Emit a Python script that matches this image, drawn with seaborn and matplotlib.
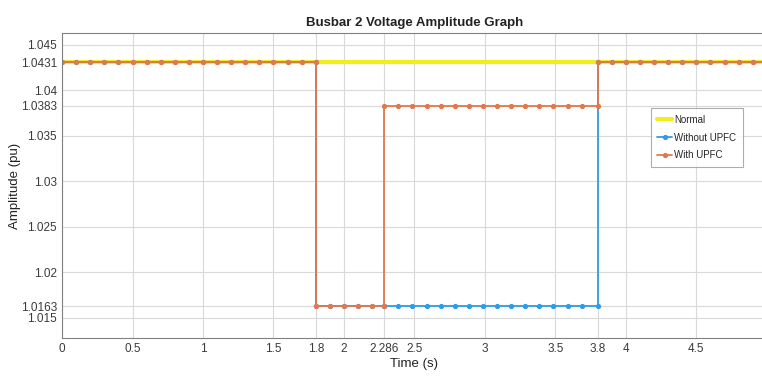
import numpy as np
import pandas as pd
import matplotlib
matplotlib.use("Agg")
import matplotlib.pyplot as plt
import seaborn as sns

# time stamps of the simulation samples (s)
t_pre = [0.0, 0.1, 0.2, 0.3, 0.4, 0.5, 0.6, 0.7, 0.8, 0.9, 1.0,
         1.1, 1.2, 1.3, 1.4, 1.5, 1.6, 1.7, 1.8]
t_fault = [1.8, 1.9, 2.0, 2.1, 2.2, 2.286]
t_mid = [2.286, 2.386, 2.486, 2.586, 2.686, 2.786, 2.886, 2.986,
         3.086, 3.186, 3.286, 3.386, 3.486, 3.586, 3.686, 3.8]
t_post = [3.8, 3.9, 4.0, 4.1, 4.2, 4.3, 4.4, 4.5, 4.6, 4.7, 4.8, 4.9, 5.0]

# voltage levels (pu)
v_normal = 1.0431
v_fault = 1.0163
v_upfc = 1.0383

normal_t = [0.0, 5.0]
normal_v = [v_normal, v_normal]

without_t = t_pre + t_fault + t_mid + t_post
without_v = ([v_normal] * len(t_pre) + [v_fault] * len(t_fault)
             + [v_fault] * len(t_mid) + [v_normal] * len(t_post))

with_t = t_pre + t_fault + t_mid + t_post
with_v = ([v_normal] * len(t_pre) + [v_fault] * len(t_fault)
          + [v_upfc] * len(t_mid) + [v_normal] * len(t_post))

x_ticks = [0, 0.5, 1, 1.5, 1.8, 2, 2.286, 2.5, 3, 3.5, 3.8, 4, 4.5, 5]
x_labels = ['0', '0.5', '1', '1.5', '1.8', '2', '2.286', '2.5', '3', '3.5', '3.8', '4', '4.5', '5']
y_ticks = [1.015, 1.0163, 1.02, 1.025, 1.03, 1.035, 1.0383, 1.04, 1.0431, 1.045]
y_labels = ['1.015', '1.0163', '1.02', '1.025', '1.03', '1.035', '1.0383', '1.04', '1.0431', '1.045']

sns.set_style("whitegrid")
plt.rcParams['font.family'] = ['Liberation Sans Narrow', 'Liberation Sans', 'DejaVu Sans']

fig = plt.figure(figsize=(7.62, 3.81), dpi=100)
ax = fig.add_axes([0.0814, 0.113, 0.925, 0.8005])

df_normal = pd.DataFrame({'t': normal_t, 'v': normal_v})
df_without = pd.DataFrame({'t': without_t, 'v': without_v})
df_with = pd.DataFrame({'t': with_t, 'v': with_v})

sns.lineplot(data=df_normal, x='t', y='v', ax=ax, sort=False, estimator=None,
             color='#F2EE1C', lw=3, label='Normal')
sns.lineplot(data=df_without, x='t', y='v', ax=ax, sort=False, estimator=None,
             color='#2F9CE8', lw=1.3, marker='o', ms=3, mec='#2F9CE8',
             label='Without UPFC')
sns.lineplot(data=df_with, x='t', y='v', ax=ax, sort=False, estimator=None,
             color='#E4784A', lw=1.3, marker='o', ms=3, mec='#E4784A',
             label='With UPFC')

ax.set_xlim(0, 5)
ax.set_ylim(1.0128, 1.0463)
ax.set_xticks(x_ticks)
ax.set_xticklabels(x_labels)
ax.set_yticks(y_ticks)
ax.set_yticklabels(y_labels)
ax.grid(True, color='#d9d9d9', lw=0.8)
ax.tick_params(direction='in', length=3, labelsize=8.5, colors='#404040',
               labelcolor='#3a3a3a')
for s in ax.spines.values():
    s.set_color('#808080')
    s.set_linewidth(0.8)

ax.set_title('Busbar 2 Voltage Amplitude Graph', fontsize=9.5, fontweight='bold',
             color='#222222', pad=5)
ax.set_xlabel('Time (s)', fontsize=9.5, color='#222222', labelpad=2)
ax.set_ylabel('Amplitude (pu)', fontsize=9.5, color='#222222', labelpad=0)

leg = ax.legend(loc='upper left', bbox_to_anchor=(0.835, 0.754), borderaxespad=0,
                fontsize=7, frameon=True, fancybox=False, handlelength=1.5,
                handletextpad=0.2, borderpad=0.7, labelspacing=0.8)
leg.get_frame().set_edgecolor('#999999')
leg.get_frame().set_linewidth(0.8)

fig.savefig('out.png', dpi=100)
